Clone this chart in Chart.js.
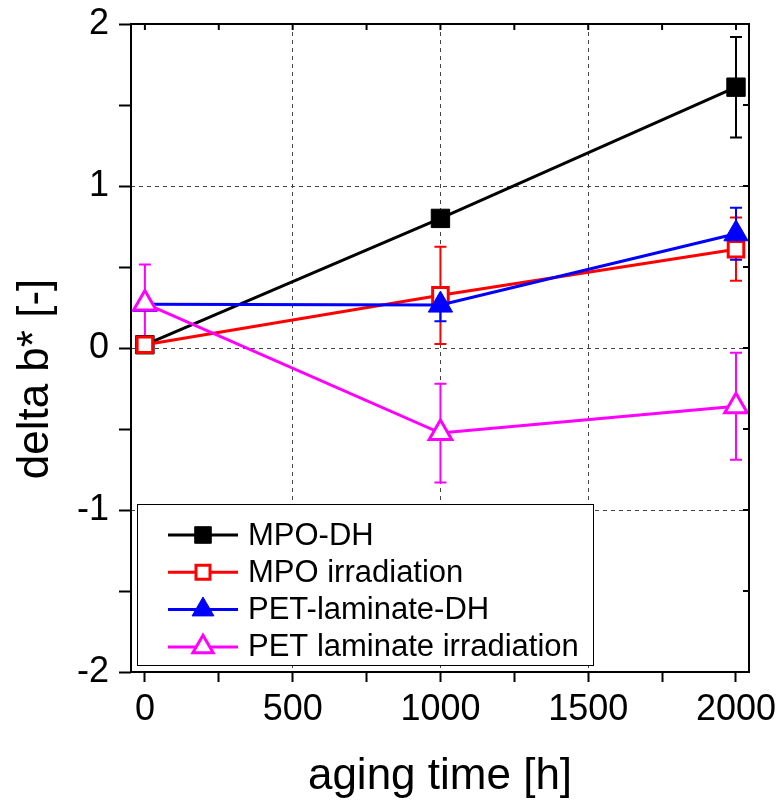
<!DOCTYPE html>
<html>
<head>
<meta charset="utf-8">
<title>delta b* vs aging time</title>
<script src="https://cdn.jsdelivr.net/npm/chart.js@4.4.1/dist/chart.umd.min.js"></script>
<style>
  body { margin: 0; background: #fff; }
  canvas { display: block; }
</style>
</head>
<body>
<canvas id="deltaChart" width="777" height="803"></canvas>
<script>
// aging time [h]
const agingTime = [0, 1000, 2000];

// delta b* values and error bar half-widths
const mpoDH = [0.02, 0.80, 1.61];
const mpoDHErr = [0, 0.03, 0.31];
const mpoIrr = [0.02, 0.325, 0.61];
const mpoIrrErr = [0, 0.30, 0.195];
const petDH = [0.27, 0.265, 0.705];
const petDHErr = [0, 0.10, 0.16];
const petIrr = [0.275, -0.525, -0.36];
const petIrrErr = [0.24, 0.305, 0.33];

const seriesLabels = ['MPO-DH', 'MPO irradiation', 'PET-laminate-DH', 'PET laminate irradiation'];
const xTicksMajor = [0, 500, 1000, 1500, 2000];
const yTicksMajor = [-2, -1, 0, 1, 2];
const yTitle = 'delta b* [-]';

const FONT = '"Liberation Sans", Arial, Helvetica, sans-serif';

function toPoints(values) {
  return agingTime.map((t, i) => ({ x: t, y: values[i] }));
}

function makeSeries(label, values, errors, color, style, filled, radius, order) {
  return {
    label,
    data: toPoints(values),
    errors,
    borderColor: color,
    backgroundColor: color,
    borderWidth: 3,
    pointStyle: style,
    pointRadius: radius,
    pointHoverRadius: radius,
    pointBackgroundColor: filled ? color : '#ffffff',
    pointBorderColor: color,
    pointBorderWidth: filled ? 1 : 3,
    tension: 0,
    order
  };
}

// vertical error bars with caps, drawn under the lines and markers
const errorBars = {
  id: 'errorBars',
  beforeDatasetsDraw(chart) {
    const ctx = chart.ctx;
    const yScale = chart.scales.y;
    chart.data.datasets.forEach((ds, i) => {
      const meta = chart.getDatasetMeta(i);
      ctx.save();
      ctx.strokeStyle = ds.borderColor;
      ctx.lineWidth = 2;
      meta.data.forEach((pt, j) => {
        const err = ds.errors[j];
        if (!err) return;
        const v = ds.data[j].y;
        const top = yScale.getPixelForValue(v + err);
        const bot = yScale.getPixelForValue(v - err);
        ctx.beginPath();
        ctx.moveTo(pt.x, top);
        ctx.lineTo(pt.x, bot);
        ctx.moveTo(pt.x - 6, top);
        ctx.lineTo(pt.x + 6, top);
        ctx.moveTo(pt.x - 6, bot);
        ctx.lineTo(pt.x + 6, bot);
        ctx.stroke();
      });
      ctx.restore();
    });
  }
};

// closed frame with inward ticks on top/right, the y title and the boxed legend
const frameAndLegend = {
  id: 'frameAndLegend',
  afterDraw(chart) {
    const ctx = chart.ctx;
    const { left, right, top, bottom } = chart.chartArea;
    const xs = chart.scales.x, ys = chart.scales.y;

    ctx.save();
    ctx.strokeStyle = '#000';
    ctx.lineWidth = 2;
    ctx.strokeRect(left, top, right - left, bottom - top);

    ctx.beginPath();
    xs.ticks.forEach(t => {
      const px = xs.getPixelForValue(t.value);
      ctx.moveTo(px, top);
      ctx.lineTo(px, top + 6);
    });
    ys.ticks.forEach(t => {
      const py = ys.getPixelForValue(t.value);
      ctx.moveTo(right, py);
      ctx.lineTo(right - 6, py);
    });
    ctx.stroke();

    // y axis title sits a bit below the middle of the axis in the original
    ctx.save();
    ctx.translate(36, (top + bottom) / 2 + 31);
    ctx.rotate(-Math.PI / 2);
    ctx.font = '44px ' + FONT;
    ctx.fillStyle = '#000';
    ctx.textAlign = 'center';
    ctx.textBaseline = 'middle';
    ctx.fillText(yTitle, 0, 0);
    ctx.restore();

    // legend box
    const bx = left + 6, by = bottom - 168, bw = 456, bh = 161;
    ctx.fillStyle = '#fff';
    ctx.fillRect(bx, by, bw, bh);
    ctx.lineWidth = 1;
    ctx.strokeRect(bx + 0.5, by + 0.5, bw, bh);

    ctx.font = '31px ' + FONT;
    ctx.textBaseline = 'middle';
    ctx.textAlign = 'left';
    chart.data.datasets.forEach((ds, i) => {
      const cy = by + 31 + i * 37.3;
      const x0 = bx + 31, x1 = bx + 101, mx = (x0 + x1) / 2;
      ctx.strokeStyle = ds.borderColor;
      ctx.lineWidth = 3;
      ctx.beginPath();
      ctx.moveTo(x0, cy);
      ctx.lineTo(x1, cy);
      ctx.stroke();
      ctx.fillStyle = ds.pointBackgroundColor;
      ctx.strokeStyle = ds.pointBorderColor;
      ctx.lineWidth = ds.pointBorderWidth;
      Chart.helpers.drawPoint(ctx, {
        pointStyle: ds.pointStyle,
        radius: ds.pointRadius * 0.9,
        rotation: 0,
        borderWidth: ds.pointBorderWidth
      }, mx, cy);
      ctx.fillStyle = '#000';
      ctx.fillText(ds.label, bx + 111, cy + 1);
    });
    ctx.restore();
  }
};

function gridColor(majors) {
  return c => {
    const v = c.tick ? c.tick.value : null;
    if (v === null || !majors.includes(v)) return 'rgba(0,0,0,0)';
    if (v === majors[0] || v === majors[majors.length - 1]) return 'rgba(0,0,0,0)';
    return '#444';
  };
}

const ctx = document.getElementById('deltaChart').getContext('2d');
new Chart(ctx, {
  type: 'line',
  data: {
    datasets: [
      makeSeries(seriesLabels[0], mpoDH, mpoDHErr, '#000000', 'rect', true, 13, 4),
      makeSeries(seriesLabels[1], mpoIrr, mpoIrrErr, '#ff0000', 'rect', false, 11, 3),
      makeSeries(seriesLabels[2], petDH, petDHErr, '#0000ff', 'triangle', true, 14, 2),
      makeSeries(seriesLabels[3], petIrr, petIrrErr, '#ff00ff', 'triangle', false, 13, 1)
    ]
  },
  options: {
    responsive: false,
    animation: false,
    layout: { padding: { top: 24, right: 28, left: 0, bottom: 0 } },
    plugins: {
      legend: { display: false },
      tooltip: { enabled: false }
    },
    scales: {
      x: {
        type: 'linear',
        min: -47,
        max: 2044,
        afterFit: s => {
          s.height = 131;
          s.paddingLeft = 0;
          s.paddingRight = 0;
        },
        border: { display: false, dash: [4, 4] },
        grid: {
          color: gridColor(xTicksMajor),
          lineWidth: 1,
          tickColor: '#000',
          tickWidth: 2,
          tickLength: 10
        },
        ticks: {
          stepSize: 250,
          includeBounds: false,
          autoSkip: false,
          maxRotation: 0,
          padding: 6,
          color: '#000',
          font: { family: FONT, size: 36 },
          callback: v => (xTicksMajor.includes(v) ? String(v) : '')
        },
        title: {
          display: true,
          text: 'aging time [h]',
          color: '#000',
          font: { family: FONT, size: 44, lineHeight: 1 },
          padding: { top: 0, bottom: 4 }
        }
      },
      y: {
        type: 'linear',
        min: -2,
        max: 2,
        afterFit: s => {
          s.width = 131;
          s.paddingTop = 0;
          s.paddingBottom = 0;
        },
        border: { display: false, dash: [4, 4] },
        grid: {
          color: gridColor(yTicksMajor),
          lineWidth: 1,
          tickColor: '#000',
          tickWidth: 2,
          tickLength: 12
        },
        ticks: {
          stepSize: 0.5,
          autoSkip: false,
          padding: 10,
          color: '#000',
          font: { family: FONT, size: 36 },
          callback: v => (yTicksMajor.includes(v) ? String(v) : '')
        }
      }
    }
  },
  plugins: [errorBars, frameAndLegend]
});
</script>
</body>
</html>
